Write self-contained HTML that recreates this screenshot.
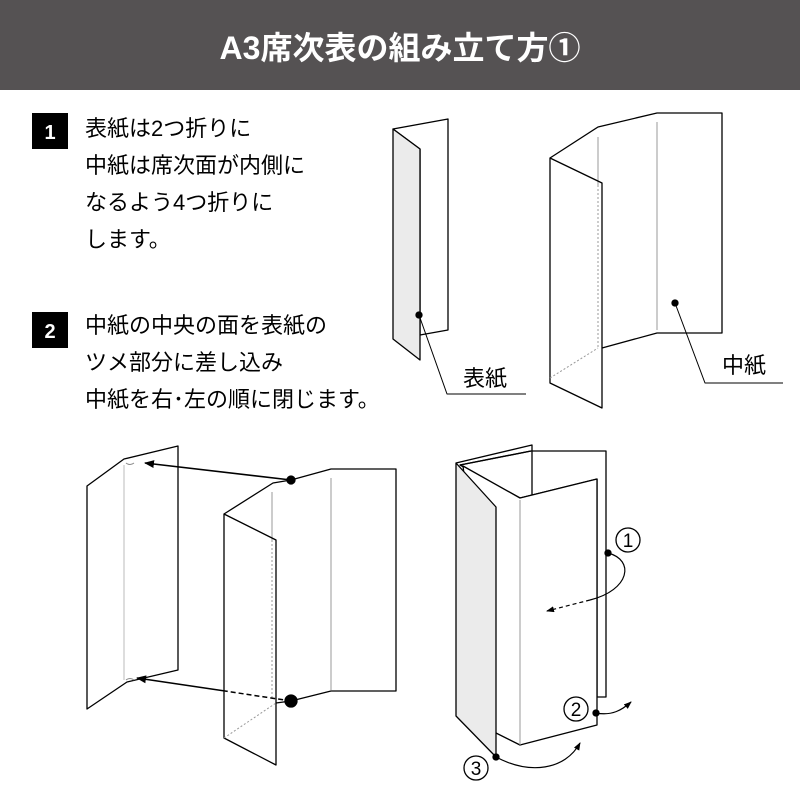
<!DOCTYPE html>
<html><head><meta charset="utf-8"><style>
body{margin:0;width:800px;height:800px;background:#fff;overflow:hidden;font-family:"Liberation Sans","Noto Sans CJK JP",sans-serif}
</style></head><body>
<svg width="800" height="800" viewBox="0 0 800 800" xmlns="http://www.w3.org/2000/svg" font-family="Liberation Sans, Noto Sans CJK JP, sans-serif">
<defs><marker id="ah" markerWidth="10" markerHeight="8" refX="9" refY="4" orient="auto" markerUnits="userSpaceOnUse"><path d="M0,0 L10,4 L0,8 z" fill="#000"/></marker>
<marker id="sa" markerWidth="8" markerHeight="6" refX="7" refY="3" orient="auto" markerUnits="userSpaceOnUse"><path d="M0,0 L8,3 L0,6 z" fill="#000"/></marker></defs>
<rect x="0" y="0" width="800" height="90" fill="#555253"/>
<text x="400" y="59" text-anchor="middle" font-size="32" font-weight="bold" fill="#fff">A3席次表の組み立て方①</text>
<rect x="32" y="113" width="36" height="36" fill="#000"/>
<text x="50" y="139" text-anchor="middle" font-size="20" font-weight="bold" fill="#fff">1</text>
<g font-size="22" fill="#000">
<text x="85" y="136">表紙は2つ折りに</text>
<text x="85" y="173">中紙は席次面が内側に</text>
<text x="85" y="210">なるよう4つ折りに</text>
<text x="85" y="247">します。</text>
<text x="85" y="333">中紙の中央の面を表紙の</text>
<text x="85" y="370">ツメ部分に差し込み</text>
<text x="85" y="407">中紙を右･左の順に閉じます。</text>
<text x="463" y="386">表紙</text>
<text x="722" y="373">中紙</text>
</g>
<rect x="32" y="312" width="36" height="36" fill="#000"/>
<text x="50" y="338" text-anchor="middle" font-size="20" font-weight="bold" fill="#fff">2</text>
<g fill="none" stroke="#000" stroke-width="1.3" stroke-linejoin="round">
<!-- 表紙 -->
<polygon points="393,129 448,119 448,330 420,335 420,149" fill="#fff"/>
<polygon points="393,129 420,149 420,360 393,339" fill="#ebebeb"/>
<circle cx="419" cy="315" r="3" fill="#000"/>
<polyline points="419,315 447,394 526,394" stroke-width="1"/>
<!-- 中紙 -->
<polyline points="550,158 598,127 657,113 722,113 722,333 657,333 602,348"/>
<line x1="598" y1="137" x2="598" y2="185" stroke="#999" stroke-width="1"/>
<line x1="657" y1="122" x2="657" y2="330" stroke="#999" stroke-width="1"/>
<polygon points="550,158 602,183 602,408 550,383"/>
<line x1="598" y1="185" x2="598" y2="348" stroke="#999" stroke-width="1" stroke-dasharray="2,2"/>
<line x1="550" y1="378" x2="598" y2="348" stroke="#999" stroke-width="1" stroke-dasharray="2,2"/>
<circle cx="675" cy="303" r="3" fill="#000"/>
<polyline points="675,303 705,383 783,383" stroke-width="1"/>
<!-- step2 left -->
<polygon points="87,486 124,459 178,446 178,670 127,682 87,709" fill="#fff"/>
<line x1="124" y1="465" x2="124" y2="680" stroke="#bbb" stroke-width="1"/>
<path d="M126,463 q4,3 8,0" stroke="#888" stroke-width="1"/>
<path d="M126,680 q4,-3 8,0" stroke="#888" stroke-width="1"/>
<!-- step2 right -->
<polyline points="224,514 273,483 291,480 331,469 396,469 396,691 331,691 291,701 276,703"/>
<line x1="272" y1="492" x2="272" y2="540" stroke="#999" stroke-width="1"/>
<line x1="272" y1="540" x2="272" y2="700" stroke="#999" stroke-width="1" stroke-dasharray="2,2"/>
<line x1="331" y1="478" x2="331" y2="690" stroke="#999" stroke-width="1"/>
<polygon points="224,514 276,540 276,765 224,738"/>
<line x1="224" y1="738" x2="276" y2="703" stroke="#999" stroke-width="1" stroke-dasharray="2,2"/>
<line x1="291" y1="480" x2="145" y2="463" stroke-width="1.5" marker-end="url(#ah)"/>
<line x1="291" y1="701" x2="225" y2="691" stroke-width="1.5" stroke-dasharray="5,3"/>
<line x1="225" y1="691" x2="137" y2="678" stroke-width="1.5" marker-end="url(#ah)"/>
<circle cx="291" cy="480" r="4" fill="#000"/>
<circle cx="291" cy="701" r="6" fill="#000"/>
<!-- step3 -->
<polygon points="531,451 606,451 606,697 597,697 597,479 520,498 460,465" fill="#fff"/>
<polyline points="456,463 532,445 532,495"/>
<polyline points="460,465 531,451"/>
<polygon points="463,466 520,498 597,479 597,725 520,745 496,733" fill="#fff"/>
<line x1="520" y1="500" x2="520" y2="745" stroke="#999" stroke-width="1"/>
<polygon points="456,463 496,507 496,757 456,716" fill="#ebebeb"/>
<circle cx="608" cy="553" r="3" fill="#000"/>
<path d="M608,553 C635,560 630,590 590,600" stroke-width="1.2"/>
<path d="M590,600 L547,611" stroke-width="1.2" stroke-dasharray="4,3" marker-end="url(#sa)"/>
<circle cx="596" cy="713" r="3" fill="#000"/>
<path d="M596,713 C612,716 622,710 631,702" stroke-width="1.2" marker-end="url(#sa)"/>
<circle cx="496" cy="757" r="3" fill="#000"/>
<path d="M496,757 C530,775 565,770 580,743" stroke-width="1.2" marker-end="url(#sa)"/>
<circle cx="628" cy="540" r="12" stroke-width="1.3"/>
<circle cx="576" cy="709" r="12" stroke-width="1.3"/>
<circle cx="476" cy="768" r="12" stroke-width="1.3"/>
</g>
<g font-size="19" text-anchor="middle" fill="#000">
<text x="628" y="547">1</text><text x="576" y="716">2</text><text x="476" y="775">3</text>
</g>
</svg>
</body></html>
